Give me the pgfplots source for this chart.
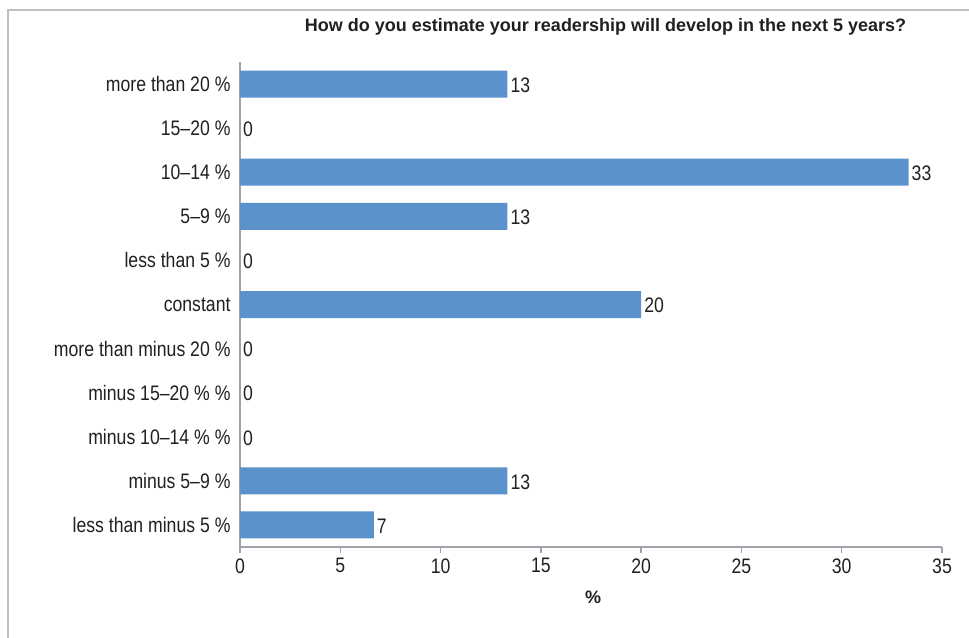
\documentclass[border=0pt]{standalone}
\usepackage{fontspec}
\setmainfont{Liberation Sans}
\newfontfamily\condfont{Liberation Sans}[FakeStretch=0.84, Ligatures=TeX]
\usepackage{pgfplots}
\pgfplotsset{compat=1.18}
\definecolor{barblue}{RGB}{91,146,203}
\definecolor{axgray}{RGB}{160,163,170}
\definecolor{txt}{RGB}{35,31,32}
\definecolor{framegray}{RGB}{190,190,196}
\newcommand\lab{\condfont\fontsize{21bp}{24bp}\selectfont}
\newcommand\ttl{\fontsize{18bp}{22bp}\selectfont\bfseries}
\begin{document}
\begin{tikzpicture}
\path[use as bounding box] (-240bp,-91bp) rectangle (729bp,547bp);
\draw[framegray, line width=1.5bp] (-232bp,-91bp) -- (-232bp,537bp) -- (729bp,537bp);
\begin{axis}[
  at={(0,0)}, anchor=south west,
  scale only axis, width=702bp, height=485bp,
  xbar, bar width=27bp,
  xmin=0, xmax=35, xtick={0,5,...,35},
  ymin=-0.5, ymax=10.5, y dir=reverse,
  ytick={0,...,10},
  yticklabels={more than 20 \%, 15–20 \%, 10–14 \%, 5–9 \%, less than 5 \%, constant, more than minus 20 \%, minus 15–20 \% \%, minus 10–14 \% \%, minus 5–9 \%, less than minus 5 \%},
  minor ytick={-0.5,0.5,...,10.5},
  axis x line*=bottom, axis y line*=left,
  axis line style={-, axgray, line width=1.3bp},
  tick align=outside,
  major tick length=6bp, minor tick length=6bp,
  ytick style={draw=none},
  minor y tick style={axgray, line width=1.3bp},
  xtick style={axgray, line width=1.3bp},
  /pgf/number format/assume math mode=true,
  ticklabel style={font=\lab, text=txt},
  xticklabel style={yshift=-2bp},
  clip=false,
  title={How do you estimate your readership will develop in the next 5 years?},
  title style={at={(0.5207,1)}, anchor=base, yshift=25bp, font=\ttl, text=txt},
  xlabel={\%},
  xlabel style={at={(0.503,0)}, anchor=center, yshift=-50bp, font=\ttl, text=txt},
  nodes near coords={\pgfmathprintnumber[fixed,precision=0]{\pgfplotspointmeta}},
  nodes near coords style={font=\lab, text=txt, anchor=west, inner sep=3bp, yshift=-1bp},
]
\addplot[fill=barblue, draw=none] coordinates {
  (13.33,0) (0,1) (33.33,2) (13.33,3) (0,4) (20,5) (0,6) (0,7) (0,8) (13.33,9) (6.67,10)
};
\end{axis}
\end{tikzpicture}
\end{document}
